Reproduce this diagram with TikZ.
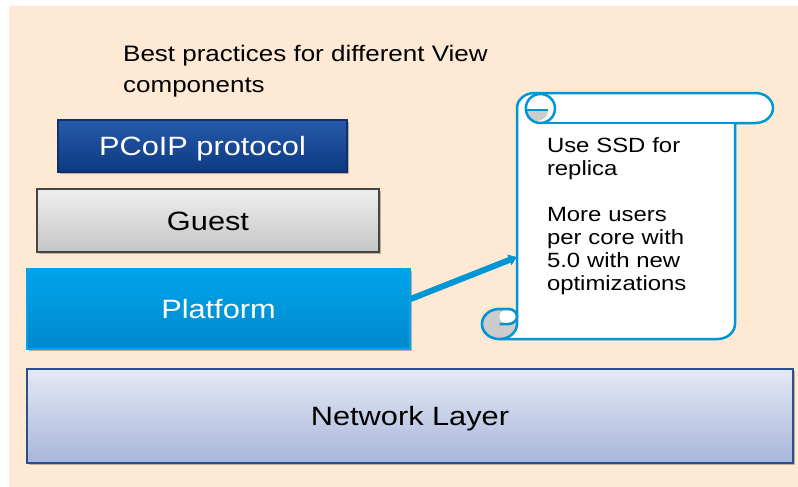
\documentclass[tikz,border=0pt]{standalone}
\usepackage{fontspec}
\setmainfont{Liberation Sans}[FakeStretch=1.16]
\usepackage{xcolor}
\usepackage{tikz}
\usetikzlibrary{arrows.meta,shadows}
\definecolor{PageBg}{RGB}{253,233,212}
\definecolor{PcoipTop}{RGB}{40,90,170}
\definecolor{PcoipBottom}{RGB}{12,58,130}
\definecolor{PcoipLine}{RGB}{15,48,105}
\definecolor{GuestTop}{RGB}{238,238,238}
\definecolor{GuestBottom}{RGB}{198,198,198}
\definecolor{GuestLine}{RGB}{70,70,70}
\definecolor{PlatformTop}{RGB}{0,164,234}
\definecolor{PlatformBottom}{RGB}{0,136,205}
\definecolor{NetTop}{RGB}{229,233,245}
\definecolor{NetBottom}{RGB}{168,182,218}
\definecolor{NetLine}{RGB}{40,80,140}
\definecolor{ScrollBlue}{RGB}{0,150,214}
\definecolor{CurlGray}{RGB}{204,204,204}
\tikzset{
    layerbox/.style={rectangle, line width=1.2pt, inner sep=0pt, text height=19pt, text depth=0pt,
        font=\fontsize{26.5}{30}\selectfont,
        drop shadow={shadow xshift=1.5pt, shadow yshift=-2pt, opacity=0.25, fill=black}},
    scrollline/.style={draw=ScrollBlue, line width=2.5pt, line join=round}
}

\begin{document}
\begin{tikzpicture}[
        x=1pt, y=-1pt,
        % Style cho tieu de
        titletext/.style={
            anchor=north west,
            inner sep=0pt,
            align=left,
            font=\fontsize{22.4}{31}\selectfont
        },
        % Style cho chu trong cuon giay
        notetext/.style={
            text width=158pt,
            inner xsep=30pt,
            inner ysep=0pt,
            minimum height=216pt,
            align=left,
            font=\fontsize{20.6}{23}\selectfont
        },
        % Style cho mui ten
        pointer/.style={
            draw=ScrollBlue,
            line width=6pt,
            -{Triangle[length=8pt, width=11pt]}
        }
    ]

        \useasboundingbox (0,0) rectangle (798,487);
        \fill[PageBg] (9,6) rectangle (798,487);

        % --- TIEU DE ---
        \node[titletext] (title) at (123,45) {Best practices for different View\\components};

        % --- CAC LOP ---
        \node[layerbox, top color=PcoipTop, bottom color=PcoipBottom, draw=PcoipLine, text=white,
            minimum width=289pt, minimum height=52pt] (pcoip) at (202.5,146) {PCoIP protocol};
        \node[layerbox, top color=GuestTop, bottom color=GuestBottom, draw=GuestLine,
            minimum width=342pt, minimum height=63pt] (guest) at (208,220.5) {Guest};
        \node[layerbox, top color=PlatformTop, bottom color=PlatformBottom, draw=PlatformTop, text=white,
            minimum width=383pt, minimum height=80pt] (platform) at (218.5,309) {Platform};
        \node[layerbox, top color=NetTop, bottom color=NetBottom, draw=NetLine,
            minimum width=766pt, minimum height=94pt] (network) at (410,416) {Network Layer};

        % --- CUON GIAY ---
        \draw[scrollline, fill=white] (517,108) arc[start angle=180, end angle=270, x radius=17.5, y radius=15]
            -- (755.5,93) arc[start angle=270, end angle=450, x radius=17.5, y radius=15]
            -- (735,123) -- (735,324) arc[start angle=0, end angle=90, x radius=17.5, y radius=15]
            -- (499.5,339) arc[start angle=90, end angle=270, x radius=17.5, y radius=15]
            -- (508.25,309) arc[start angle=270, end angle=360, x radius=8.75, y radius=7.5]
            -- cycle;

        % cuon duoi
        \fill[CurlGray] (499.5,324) ellipse[x radius=17.5, y radius=15];
        \fill[white] (508.25,316.5) ellipse[x radius=8.75, y radius=7.5];
        \draw[scrollline] (499.5,339) arc[start angle=90, end angle=270, x radius=17.5, y radius=15]
            -- (508.25,309) arc[start angle=270, end angle=360, x radius=8.75, y radius=7.5];
        \draw[scrollline] (499.5,324) -- (508.25,324) arc[start angle=90, end angle=0, x radius=8.75, y radius=7.5];
        \draw[scrollline] (517,316.5) -- (517,324) arc[start angle=0, end angle=90, x radius=17.5, y radius=15];

        % cuon tren
        \fill[CurlGray] (525.8,110) arc[start angle=180, end angle=0, x radius=11.2, y radius=11] -- cycle;
        \draw[scrollline] (540.4,108.5) ellipse[x radius=14.6, y radius=14.5];
        \draw[scrollline] (525.8,110) -- (548.3,110);
        \draw[scrollline] (540.4,123) -- (735,123);

        \node[notetext] (note) at (626,216) {Use SSD for\\replica\\[23pt]More users\\per core with\\5.0 with new\\optimizations};

        % --- MUI TEN ---
        \draw[pointer] ([yshift=10pt]platform.east) -- ([yshift=-41pt]note.west);

    \end{tikzpicture}
\end{document}
